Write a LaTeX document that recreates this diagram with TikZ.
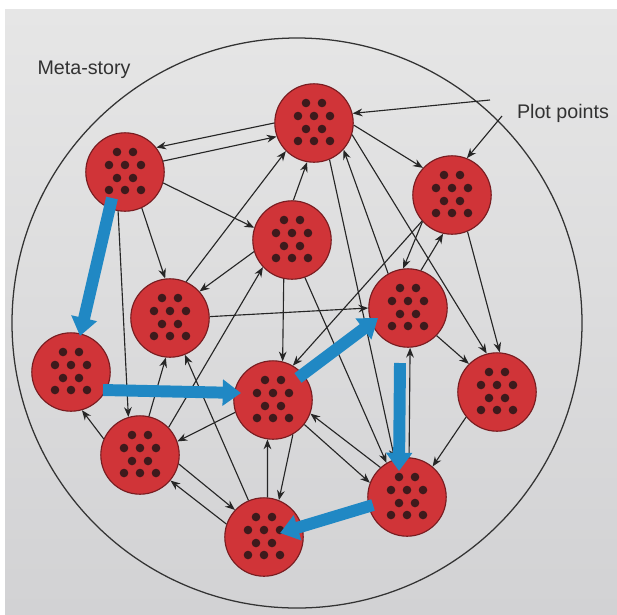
\documentclass[tikz,border=0pt]{standalone}
\usepackage{fontspec}
\setmainfont{Liberation Sans}
\usepackage{tikz}
\usetikzlibrary{arrows.meta,positioning,calc}
\usepackage{xcolor}
\definecolor{pagegray}{RGB}{230,230,230}
\definecolor{pagegraydk}{RGB}{210,210,212}
\definecolor{ptred}{RGB}{208,52,56}
\definecolor{ptedge}{RGB}{120,28,32}
\definecolor{ptdot}{RGB}{62,26,28}
\definecolor{flowblue}{RGB}{32,136,196}
\definecolor{inkgray}{RGB}{50,50,50}

\newcommand{\plotdots}[1]{%
  \foreach \dx/\dy in {-8/-20,8/-20,-16/-7,0/-7,16/-7,-8/6,8/6,-16/18,0/18,16/18}
    {\fill[ptdot] ($(#1)+(\dx,\dy)$) circle (4.3);}}

\begin{document}
\begin{tikzpicture}[x=0.025cm,y=-0.025cm,
  plotpt/.style={circle,fill=ptred,draw=ptedge,line width=0.8pt,minimum size=1.96cm,inner sep=0pt},
  link/.style={-{Stealth[length=7pt,width=5.5pt]},line width=0.8pt,draw=black!85},
  flow/.style={-{Triangle[length=13pt,width=18pt]},line width=8.5pt,draw=flowblue},
  lbl/.style={text=inkgray,font=\fontsize{14}{16}\selectfont}]
  \useasboundingbox (0,0) rectangle (617,614);
  % page
  \fill[white] (0,0) rectangle (617,614);
  \shade[top color=pagegray,bottom color=pagegraydk] (5,9) rectangle (617,614);
  % meta-story frame
  \draw[line width=0.9pt,black!80] (297,323) circle (285);
  % plot points
  \foreach \n/\x/\y in {A/314/123,B/125/172,C/452/195,D/292/240,E/170/318,F/408/308,
                        G/71/372,H/273/400,I/497/392,J/140/455,K/407/497,L/264/537}{
    \node[plotpt] (\n) at (\x,\y) {};
    \plotdots{\n}
  }
  % links
  \draw[link] (A.180) -- (B.38);
  \draw[link] (B.16) -- (A.200);
  \draw[link] (B.344) -- (D.162);
  \draw[link] (B.295) -- (E.97);
  \draw[link] (B.260) -- (J.107);
  \draw[link] (E.66) -- (A.225);
  \draw[link] (D.88) -- (A.260);
  \draw[link] (D.197) -- (E.42);
  \draw[link] (E.2) -- (F.180);
  \draw[link] (D.258) -- (H.76);
  \draw[link] (D.289) -- (K.121);
  \draw[link] (A.293) -- (K.108);
  \draw[link] (F.120) -- (A.318);
  \draw[link] (A.343) -- (I.105);
  \draw[link] (A.357) -- (C.137);
  \draw[link] (C.293) -- (I.86);
  \draw[link] (C.222) -- (F.97);
  \draw[link] (F.71) -- (C.257);
  \draw[link] (C.221) -- (H.60);
  \draw[link] (J.44) -- (D.223);
  \draw[link] (J.77) -- (E.264);
  \draw[link] (L.113) -- (E.292);
  \draw[link] (J.156) -- (G.286);
  \draw[link] (H.198) -- (J.20);
  \draw[link] (J.347) -- (L.137);
  \draw[link] (L.161) -- (J.320);
  \draw[link] (L.85) -- (H.262);
  \draw[link] (H.300) -- (L.68);
  \draw[link] (H.322) -- (K.159);
  \draw[link] (K.132) -- (H.340);
  \draw[link] (K.87) -- (F.273);
  \draw[link] (I.219) -- (K.50);
  \draw[link] (F.316) -- (I.135);
  % story path
  \draw[flow] ([shift={(-13,26)}]B.center) -- ([shift={(9,-36)}]G.center);
  \draw[flow] ([shift={(32,18)}]G.center) -- ([shift={(-32,-7)}]H.center);
  \draw[flow] ([shift={(25,-22)}]H.center) -- ([shift={(-30,10)}]F.center);
  \draw[flow] ([shift={(-8,55)}]F.center) -- ([shift={(-8,-26)}]K.center);
  \draw[flow] ([shift={(-34,8)}]K.center) -- ([shift={(16,-4)}]L.center);
  % labels
  \node[lbl] (meta) at (84,70) {Meta-story};
  \node[lbl] (plot) at (563,113) {Plot points};
  \coordinate (pp1) at (490,100);
  \coordinate (pp2) at (502,116);
  \draw[link] (pp1) -- (A.14);
  \draw[link] (pp2) -- (C.68);
\end{tikzpicture}
\end{document}
